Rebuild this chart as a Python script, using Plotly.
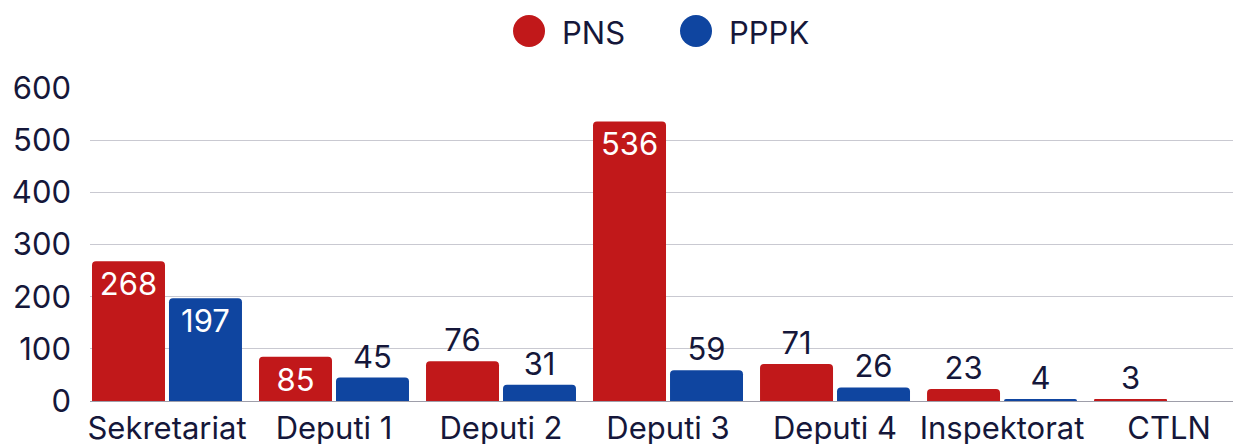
import plotly.graph_objects as go

categories = ["Sekretariat", "Deputi 1", "Deputi 2", "Deputi 3", "Deputi 4", "Inspektorat", "CTLN"]
pns = [268, 85, 76, 536, 71, 23, 3]
pppk = [197, 45, 31, 59, 26, 4, 0]
pns_pos = ["inside", "inside", "outside", "inside", "outside", "outside", "outside"]
pppk_pos = ["inside", "outside", "outside", "outside", "outside", "outside", "none"]
y_ticks = [0, 100, 200, 300, 400, 500, 600]
series_names = ["PNS", "PPPK"]

RED = "#C1181A"
BLUE = "#0F45A0"
INK = "#15173A"
FONT = "Inter, Roboto, sans-serif"
FS = 31

fig = go.Figure()
for nm, vals, pos, col in [(series_names[0], pns, pns_pos, RED), (series_names[1], pppk, pppk_pos, BLUE)]:
    fig.add_trace(go.Bar(
        name=nm, x=categories, y=vals, marker_color=col, marker_line_width=0,
        text=[str(v) for v in vals], textposition=pos,
        insidetextanchor="end",
        insidetextfont=dict(color="white", size=FS, family=FONT),
        outsidetextfont=dict(color=INK, size=FS, family=FONT),
        cliponaxis=False, showlegend=False,
    ))

# legend drawn as circles + labels above the plot
shapes = []
annotations = []
legend_items = [(series_names[0], RED, 0.3841, 0.4112), (series_names[1], BLUE, 0.5302, 0.5573)]
for nm, col, cx, tx in legend_items:
    shapes.append(dict(type="circle", xref="paper", yref="paper",
                       xsizemode="pixel", ysizemode="pixel",
                       xanchor=cx, yanchor=1.1821,
                       x0=-16, x1=16, y0=-16, y1=16,
                       fillcolor=col, line_width=0))
    annotations.append(dict(text=nm, xref="paper", yref="paper", x=tx, y=1.176,
                            xanchor="left", yanchor="middle", showarrow=False,
                            font=dict(size=FS, color=INK, family=FONT)))

fig.update_layout(
    width=1233, height=444,
    margin=dict(l=90, r=0, t=88, b=43, autoexpand=False),
    paper_bgcolor="white", plot_bgcolor="white",
    barmode="group", bargap=0.078, bargroupgap=0.052,
    barcornerradius=4,
    font=dict(family=FONT, size=FS, color=INK),
    showlegend=False,
    shapes=shapes, annotations=annotations,
    xaxis=dict(range=[-0.461, 6.383], tickfont=dict(size=FS, color=INK),
               showgrid=False, ticks="", showline=False, automargin=False,
               ticklabelstandoff=6),
    yaxis=dict(range=[0, 600], tickvals=y_ticks, tickfont=dict(size=FS, color=INK),
               showgrid=True, gridcolor="#C9C9D1", gridwidth=1,
               zeroline=True, zerolinecolor="#9E9EAA", zerolinewidth=1,
               ticks="", ticklabelstandoff=18, automargin=False),
)

fig.write_html("out.html", config={"displayModeBar": False},
               post_script="document.body.style.margin='0';document.body.style.overflow='hidden';")
